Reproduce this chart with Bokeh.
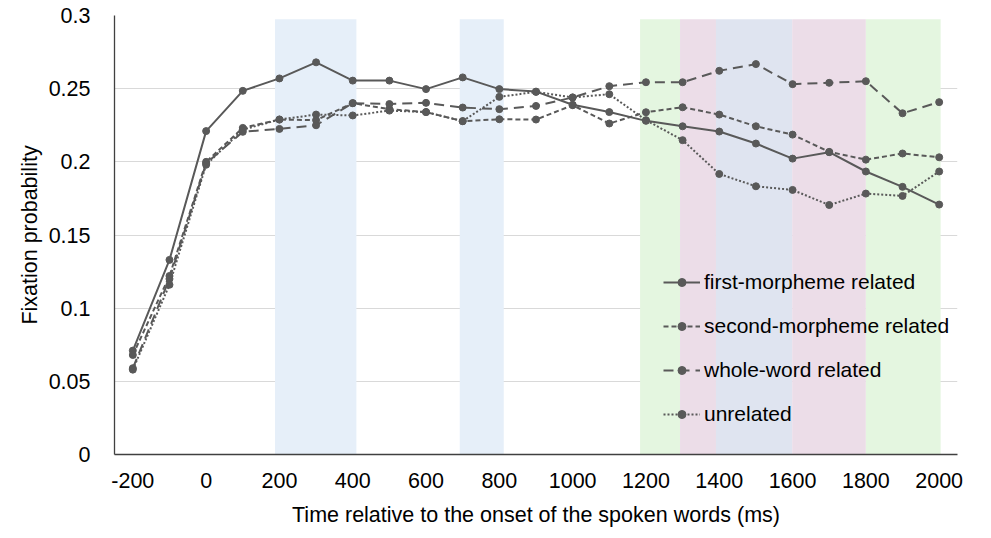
from bokeh.plotting import figure
from bokeh.models import (BoxAnnotation, Legend, LegendItem, FixedTicker,
                          NumeralTickFormatter, Range1d)
from bokeh.embed import file_html
from bokeh.resources import INLINE

# time bins (ms) relative to the spoken word onset
times = [-200, -100, 0, 100, 200, 300, 400, 500, 600, 700, 800, 900,
         1000, 1100, 1200, 1300, 1400, 1500, 1600, 1700, 1800, 1900, 2000]

first_morpheme = [0.071, 0.133, 0.221, 0.2485, 0.257, 0.268, 0.2555, 0.2555,
                  0.2497, 0.2577, 0.2497, 0.248, 0.239, 0.234, 0.228, 0.2243,
                  0.2207, 0.2125, 0.2022, 0.2066, 0.1934, 0.1829, 0.1708]
second_morpheme = [0.068, 0.122, 0.200, 0.2232, 0.2289, 0.2285, 0.2401, 0.236,
                   0.234, 0.2278, 0.2291, 0.2289, 0.2387, 0.2262, 0.2339, 0.2373,
                   0.2323, 0.2243, 0.2186, 0.2068, 0.2015, 0.2057, 0.2031]
whole_word = [0.059, 0.120, 0.199, 0.2205, 0.2225, 0.225, 0.2401, 0.2395,
              0.2403, 0.2371, 0.236, 0.2382, 0.244, 0.2517, 0.2544, 0.2544,
              0.2622, 0.2668, 0.2531, 0.254, 0.2551, 0.2332, 0.2408]
unrelated = [0.058, 0.116, 0.198, 0.222, 0.2289, 0.2323, 0.2317, 0.235,
             0.234, 0.2278, 0.2444, 0.2478, 0.244, 0.2462, 0.2285, 0.2148,
             0.1917, 0.1833, 0.1808, 0.1705, 0.1783, 0.1767, 0.1934]

series_names = ["first-morpheme related", "second-morpheme related",
                "whole-word related", "unrelated"]

# shaded time windows (ms)
band_starts = [188, 692, 1184, 1293, 1391, 1599, 1800]
band_ends = [410, 812, 1293, 1391, 1599, 1800, 2004]
band_colors = ["#e6eff9", "#e6eff9", "#e4f6e0", "#ecdde8", "#dfe4f0", "#ecdde8", "#e4f6e0"]

x_ticks = [-200, 0, 200, 400, 600, 800, 1000, 1200, 1400, 1600, 1800, 2000]
y_ticks = [0, 0.05, 0.1, 0.15, 0.2, 0.25, 0.3]

FONT = "Liberation Sans"
GREY = "#595959"

p = figure(width=975, height=532, output_backend="svg", toolbar_location=None,
           x_range=Range1d(-250, 2050), y_range=Range1d(0, 0.3),
           min_border_left=114, min_border_right=18, min_border_top=15,
           min_border_bottom=78)
p.outline_line_color = None
p.background_fill_color = "white"

for left, right, col in zip(band_starts, band_ends, band_colors):
    p.add_layout(BoxAnnotation(left=left, right=right, bottom=0, top=0.2975,
                               fill_color=col, fill_alpha=1, line_color=None,
                               level="underlay"))

# grid
p.xgrid.grid_line_color = None
p.ygrid.grid_line_color = "#d9d9d9"
p.ygrid.grid_line_width = 1.2
p.ygrid.level = "underlay"

# axes
p.xaxis.ticker = FixedTicker(ticks=x_ticks)
p.xaxis.formatter = NumeralTickFormatter(format="0")
p.yaxis.ticker = FixedTicker(ticks=y_ticks)
p.yaxis.formatter = NumeralTickFormatter(format="0.[00]")
for ax in (p.xaxis, p.yaxis):
    ax.major_tick_line_color = None
    ax.minor_tick_line_color = None
    ax.axis_line_color = "#404040"
    ax.axis_line_width = 1.3
    ax.major_label_text_font = FONT
    ax.major_label_text_font_size = "21.5px"
    ax.major_label_text_color = "black"
    ax.axis_label_text_font = FONT
    ax.axis_label_text_font_size = "21.5px"
    ax.axis_label_text_font_style = "normal"
    ax.axis_label_text_color = "black"
p.xaxis.axis_label = "Time relative to the onset of the spoken words (ms)"
p.yaxis.axis_label = "Fixation probability"
p.xaxis.major_label_standoff = 12
p.xaxis.axis_label_standoff = 12
p.yaxis.major_label_standoff = 18
p.yaxis.axis_label_standoff = 4

dashes = ["solid", "5 3", "10 6", "2 2"]
values = [first_morpheme, second_morpheme, whole_word, unrelated]
items = []
for name, ys, dash in zip(series_names, values, dashes):
    ln = p.line(times, ys, line_color=GREY, line_width=2, line_dash=dash)
    mk = p.scatter(times, ys, size=7, fill_color=GREY, line_color=GREY)
    items.append(LegendItem(label=name, renderers=[ln, mk]))

legend = Legend(items=items, location=(549, 28), glyph_width=37,
                glyph_height=20, label_height=20, spacing=20, padding=0,
                margin=0, label_standoff=4, label_text_font=FONT,
                label_text_font_size="21px", label_text_color="black",
                background_fill_alpha=0, border_line_alpha=0)
p.add_layout(legend)

open("out.html", "w").write(file_html(p, INLINE))
